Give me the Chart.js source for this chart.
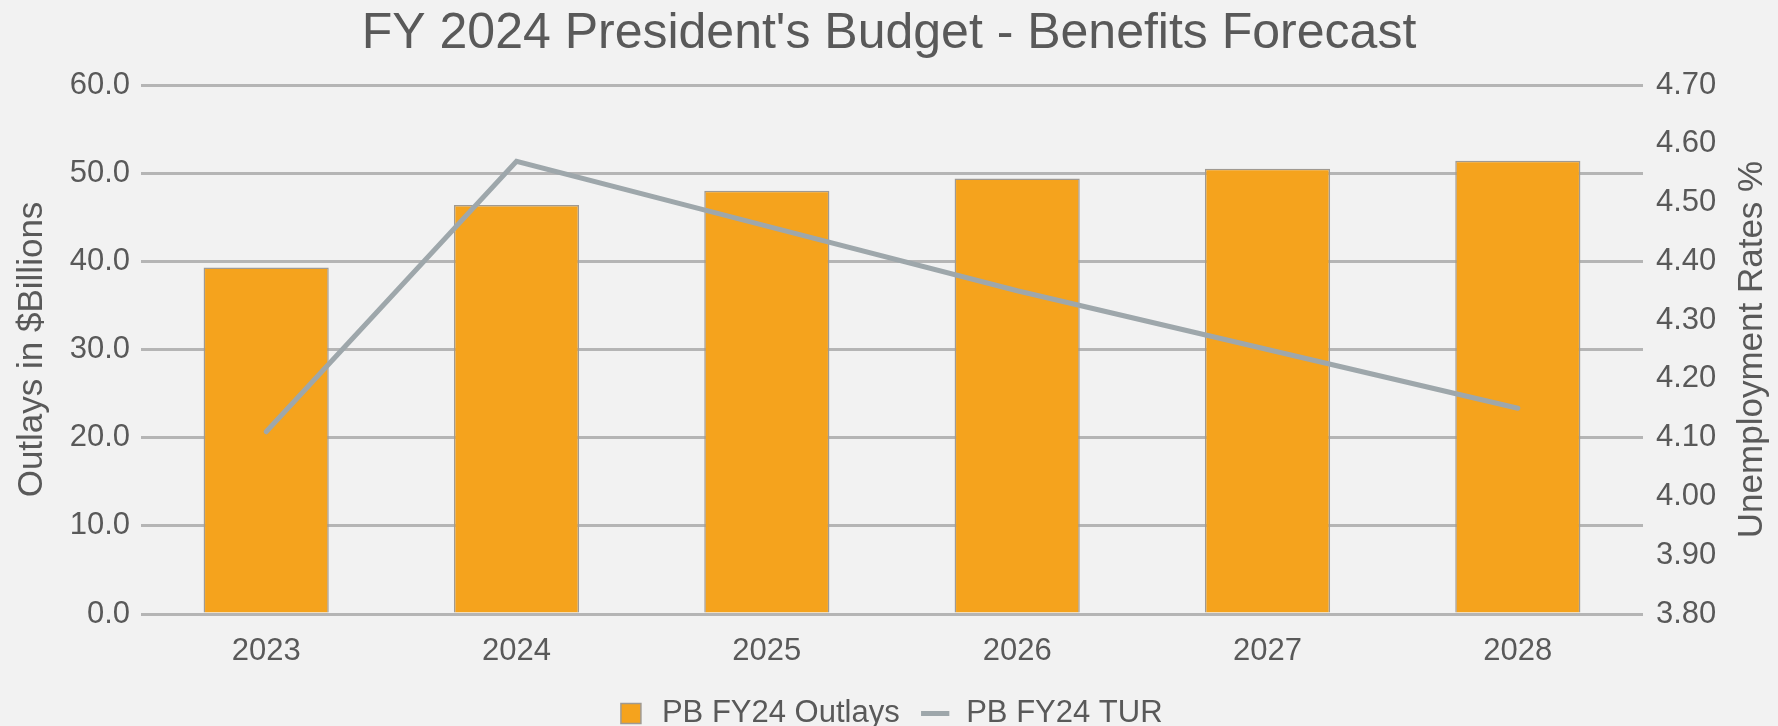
<!DOCTYPE html>
<html>
<head>
<meta charset="utf-8">
<script src="https://cdn.jsdelivr.net/npm/chart.js@4"></script>
<style>
  html, body { margin: 0; padding: 0; background: #f2f2f2; }
  #wrap { width: 1778px; height: 726px; }
</style>
</head>
<body>
<div id="wrap"><canvas id="budget" width="1778" height="726"></canvas></div>
<script>
const years = ['2023', '2024', '2025', '2026', '2027', '2028'];
const outlays = [39.3, 46.4, 48.0, 49.4, 50.5, 51.4];
const tur = [4.11, 4.57, 4.46, 4.35, 4.25, 4.15];
const TEXT = '#595959';
const FONT = "'Liberation Sans', Arial, sans-serif";

// Excel draws the right axis title bottom-to-top, Chart.js doesn't
const rightTitle = {
  id: 'rightTitle',
  afterDraw(chart) {
    const s = chart.scales.y2;
    const ctx = chart.ctx;
    ctx.save();
    ctx.translate(s.right - 26, (chart.chartArea.top + chart.chartArea.bottom) / 2);
    ctx.rotate(-Math.PI / 2);
    ctx.fillStyle = TEXT;
    ctx.font = '35px ' + FONT;
    ctx.textAlign = 'center';
    ctx.textBaseline = 'middle';
    ctx.fillText('Unemployment Rates %', 0, 0);
    ctx.restore();
  }
};

new Chart(document.getElementById('budget'), {
  data: {
    labels: years,
    datasets: [
      {
        type: 'line',
        label: 'PB FY24 TUR',
        data: tur,
        yAxisID: 'y2',
        borderColor: '#9ea7ab',
        backgroundColor: '#9ea7ab',
        borderWidth: 5,
        borderCapStyle: 'round',
        pointRadius: 0,
        pointStyle: 'line',
        tension: 0,
        order: 0,
      },
      {
        type: 'bar',
        label: 'PB FY24 Outlays',
        data: outlays,
        yAxisID: 'y',
        backgroundColor: '#f5a31d',
        borderColor: '#a09a92',
        borderWidth: 1.5,
        categoryPercentage: 0.5,
        barPercentage: 1,
        pointStyle: 'rect',
        order: 1,
      },
    ],
  },
  options: {
    responsive: false,
    animation: false,
    devicePixelRatio: 1,
    layout: { padding: { top: 0, bottom: -13, left: 0, right: 0 } },
    scales: {
      x: {
        grid: { display: false },
        border: { display: false },
        ticks: { color: TEXT, font: { family: FONT, size: 31 }, padding: 11 },
        afterFit: (s) => { s.height = 64; },
      },
      y: {
        position: 'left',
        min: 0,
        max: 60,
        grid: { color: '#b5b5b5', lineWidth: 3, drawTicks: false },
        border: { display: false },
        ticks: {
          stepSize: 10,
          color: TEXT,
          font: { family: FONT, size: 31 },
          padding: 11,
          callback: (v) => v.toFixed(1),
        },
        title: {
          display: true,
          text: 'Outlays in $Billions',
          color: TEXT,
          font: { family: FONT, size: 35 },
          padding: { top: 11, bottom: 0 },
        },
        afterFit: (s) => { s.width = 141; },
      },
      y2: {
        position: 'right',
        min: 3.8,
        max: 4.7,
        grid: { display: false, drawTicks: false },
        border: { display: false },
        ticks: {
          stepSize: 0.1,
          color: TEXT,
          font: { family: FONT, size: 31 },
          padding: 13,
          callback: (v) => v.toFixed(2),
        },
        afterFit: (s) => { s.width = 135; },
      },
    },
    plugins: {
      title: {
        display: true,
        text: "FY 2024 President's Budget - Benefits Forecast",
        color: TEXT,
        font: { family: FONT, size: 50, weight: 'normal' },
        padding: { top: 4, bottom: 21 },
      },
      legend: {
        position: 'bottom',
        labels: {
          color: TEXT,
          font: { family: FONT, size: 31, lineHeight: 1 },
          usePointStyle: true,
          boxHeight: 20,
          padding: 20,
          sort: (a, b) => b.datasetIndex - a.datasetIndex,
        },
      },
      tooltip: { enabled: false },
    },
  },
  plugins: [rightTitle],
});
</script>
</body>
</html>
